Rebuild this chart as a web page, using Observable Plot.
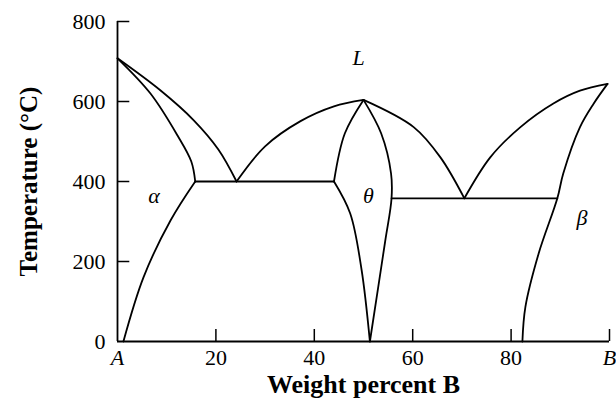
<!DOCTYPE html>
<html>
<head>
<meta charset="utf-8">
<script src="https://cdn.jsdelivr.net/npm/d3@7"></script>
<script src="https://cdn.jsdelivr.net/npm/@observablehq/plot@0.6"></script>
<style>
  html, body { margin: 0; padding: 0; background: white; }
  #chart svg { display: block; overflow: visible; font-family: "Liberation Serif", "Times New Roman", serif; }
  #chart svg text { font-family: "Liberation Serif", "Times New Roman", serif; }
</style>
</head>
<body>
<div id="chart"></div>
<script>
// ---- Data (weight percent B, temperature °C) ----
const liquidusAlpha = [[0,708],[8.7,628],[15.5,553],[20.5,480],[24.2,400]];
const solidusAlpha  = [[0,708],[6.7,620],[12.2,515],[15.0,450],[15.8,400]];
const solvusAlpha   = [[15.8,400],[10.8,303],[5.3,161],[1.2,0]];
const eutectic1     = [[15.8,400],[44,400]];
const liquidusThetaLeft  = [[24.2,400],[30,488],[37.2,551],[44,588],[50,604]];
const thetaLeftUpper     = [[50,604],[46.2,520],[44,400]];
const thetaLeftLower     = [[44,400],[47.3,320],[49.6,180],[51.3,0]];
const thetaRight         = [[50,604],[53.6,520],[55.6,420],[55.7,358],[54.4,250],[51.3,0]];
const liquidusThetaRight = [[50,604],[60.2,536],[65.6,461],[70.5,358]];
const eutectic2     = [[55.7,358],[89.4,358]];
const liquidusBeta  = [[70.5,358],[75.8,461],[81.9,536],[88.6,595],[94,627],[99.6,644]];
const solidusSolvusBeta = [[99.6,644],[96.8,595],[94,536],[90.6,420],[89.4,358],[85.6,220],[82.9,86],[82.3,0]];

const curves = [liquidusAlpha, solidusAlpha, solvusAlpha, liquidusThetaLeft, thetaLeftUpper,
  thetaLeftLower, thetaRight, liquidusThetaRight, liquidusBeta, solidusSolvusBeta];
const straight = [eutectic1, eutectic2];

// phase labels
const phaseNames = ["L", "α", "θ", "β"];
const phaseW     = [49, 7.4, 51, 94.4];
const phaseT     = [710, 365, 365, 308];

// ticks
const xTickValues = [20, 40, 60, 80];
const xEndValues  = [0, 100];
const xEndLabels  = ["A", "B"];
const xTickMarks  = [20, 40, 60, 80, 100];
const yTickValues = [0, 200, 400, 600, 800];
const yTickMarks  = [200, 400, 600, 800];

const serif = "Liberation Serif";
const phases = phaseNames.map((n, i) => ({n, w: phaseW[i], t: phaseT[i]}));
const lineStyle = {x: d => d[0], y: d => d[1], stroke: "black", strokeWidth: 1.8};

const chart = Plot.plot({
  width: 616,
  height: 407,
  marginLeft: 117,
  marginRight: 7,
  marginTop: 21,
  marginBottom: 66,
  x: {domain: [0, 100]},
  y: {domain: [0, 800]},
  style: {fontFamily: serif, background: "white", color: "black"},
  marks: [
    // axis tick labels
    Plot.axisX({ticks: xTickValues, tickSize: 0, tickPadding: 8, fontSize: 22, fontFamily: serif, label: null}),
    Plot.axisX({ticks: xEndValues, tickSize: 0, tickPadding: 8, fontSize: 22, fontFamily: serif, fontStyle: "italic", label: null,
      tickFormat: d => xEndLabels[xEndValues.indexOf(d)]}),
    Plot.axisY({ticks: yTickValues, tickSize: 0, tickPadding: 12, fontSize: 22, fontFamily: serif, label: null}),
    // inward tick marks
    Plot.ruleX(xTickMarks, {x: d => d, y1: 0, y2: 30, stroke: "black", strokeWidth: 1.5}),
    Plot.ruleY(yTickMarks, {y: d => d, x1: 0, x2: 2.5, stroke: "black", strokeWidth: 1.5}),
    // axis lines
    Plot.ruleY([0], {stroke: "black", strokeWidth: 1.8}),
    Plot.ruleX([0], {stroke: "black", strokeWidth: 1.8}),
    // phase boundaries
    ...curves.map(c => Plot.line(c, {...lineStyle, curve: "catmull-rom"})),
    ...straight.map(c => Plot.line(c, lineStyle)),
    // phase labels
    Plot.text(phases, {x: "w", y: "t", text: "n", fontSize: 22, fontFamily: serif, fontStyle: "italic", fill: "black"}),
    // axis titles
    Plot.text(["Temperature (°C)"], {frameAnchor: "left", textAnchor: "middle", dx: -89, rotate: -90, text: d => d,
      fontSize: 25, fontFamily: serif, fontWeight: "bold", fill: "black"}),
    Plot.text(["Weight percent B"], {frameAnchor: "bottom", textAnchor: "middle", dy: 51, text: d => d,
      fontSize: 26, fontFamily: serif, fontWeight: "bold", fill: "black"})
  ]
});
document.getElementById("chart").append(chart);
</script>
</body>
</html>
